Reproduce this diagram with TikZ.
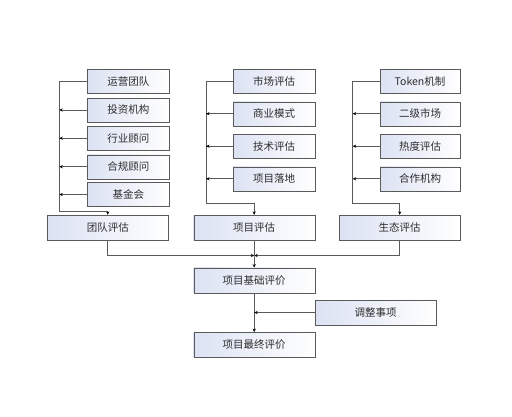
\documentclass[tikz,border=0pt]{standalone}
\usepackage{fontspec}
\setmainfont{Noto Sans CJK SC}
\usetikzlibrary{arrows.meta}
\definecolor{boxblue}{RGB}{220,226,243}
\definecolor{boxline}{RGB}{90,90,90}
\definecolor{txt}{RGB}{45,45,45}
\tikzset{
  item/.style={draw=boxline, left color=boxblue, right color=white, minimum width=82pt, minimum height=24pt, inner sep=0pt, text=txt, font=\fontsize{10.5}{12}\selectfont},
  wide/.style={item, minimum width=121pt, minimum height=25pt},
  link/.style={draw=boxline, line width=0.7pt, -{Stealth[length=3.5pt,width=3.2pt,color=black]}},
  plain/.style={draw=boxline, line width=0.7pt}
}
\begin{document}
\begin{tikzpicture}[x=1pt,y=-1pt]
      \useasboundingbox (0,0) rectangle (512,416);
      % team column
      \node[item] (yy) at (128.3,81.3) {运营团队};
      \node[item] (tz) at (128.3,110) {投资机构};
      \node[item] (hy) at (128.3,138.2) {行业顾问};
      \node[item] (hg) at (128.3,166.7) {合规顾问};
      \node[item] (jj) at (128.3,194.5) {基金会};
      \node[wide] (team) at (107.8,227.5) {团队评估};
      % project column
      \node[item] (sc) at (274.2,81.3) {市场评估};
      \node[item] (sy) at (274.2,113.7) {商业模式};
      \node[item] (js) at (274.2,146.2) {技术评估};
      \node[item] (ld) at (274.2,178.8) {项目落地};
      \node[wide] (proj) at (254.2,227.5) {项目评估};
      % ecosystem column
      \node[item, minimum width=80pt] (tk) at (420,81.3) {Token机制};
      \node[item, minimum width=80pt] (ej) at (420,113.7) {二级市场};
      \node[item, minimum width=80pt] (rd) at (420,146.2) {热度评估};
      \node[item, minimum width=80pt] (hz) at (420,178.8) {合作机构};
      \node[wide] (eco) at (399.7,227.5) {生态评估};
      % result
      \node[wide] (base) at (254.2,280.3) {项目基础评价};
      \node[wide] (adj) at (375.5,312.5) {调整事项};
      \node[wide] (final) at (254.2,344.8) {项目最终评价};
      % connectors, team
      \coordinate (tl) at (59.3,211.7);
      \draw[link] (yy.west) -| (tl) -| (team.north);
      \foreach \n in {tz,hy,hg,jj}
        \draw[link] (\n.west) -- (\n.west -| tl);
      % connectors, project
      \coordinate (pl) at (206,203.3);
      \draw[link] (sc.west) -| (pl) -| (proj.north);
      \foreach \n in {sy,js,ld}
        \draw[link] (\n.west) -- (\n.west -| pl);
      % connectors, ecosystem
      \coordinate (el) at (352.7,203.3);
      \draw[link] (tk.west) -| (el) -| (eco.north);
      \foreach \n in {ej,rd,hz}
        \draw[link] (\n.west) -- (\n.west -| el);
      % into base
      \coordinate (jn) at (254.2,255.5);
      \draw[link] (team.south) |- (jn);
      \draw[link] (eco.south) |- (jn);
      \draw[link] (proj.south) -- (base.north);
      \draw[link] (base.south) -- (final.north);
      \draw[link] (adj.west) -- (adj.west -| base.south);
\end{tikzpicture}
\end{document}
